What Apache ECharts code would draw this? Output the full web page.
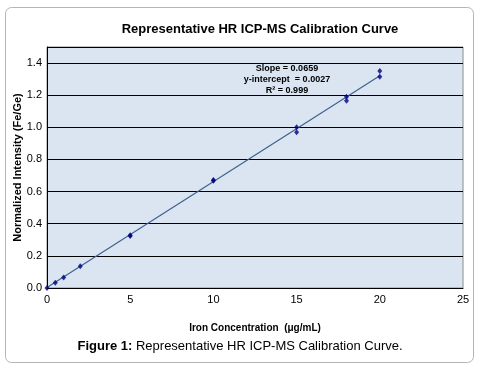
<!DOCTYPE html>
<html>
<head>
<meta charset="utf-8">
<script src="https://cdn.jsdelivr.net/npm/echarts@6/dist/echarts.min.js"></script>
<style>
  html, body { margin: 0; padding: 0; background: #fff; }
  #chart { width: 480px; height: 369px; }
</style>
</head>
<body>
<div id="chart"></div>
<script>
// calibration standards (µg/mL) and normalized Fe/Ge intensity
const concentrations = [0, 0.5, 1, 2, 5, 5, 10, 10, 15, 15, 18, 18, 20, 20];
const intensities = [0.0, 0.033, 0.066, 0.135, 0.323, 0.328, 0.668, 0.672, 0.97, 1.0, 1.165, 1.19, 1.315, 1.35];

// fitted line end points
const fitX = [0, 20];
const fitY = [0.0027, 1.3207];

const xTicks = [0, 5, 10, 15, 20, 25];
const yTicks = [0, 0.2, 0.4, 0.6, 0.8, 1.0, 1.2, 1.4];

const fitNotes = ['Slope = 0.0659', 'y-intercept  = 0.0027', 'R\u00b2 = 0.999'];

const chart = echarts.init(document.getElementById('chart'));
const font = 'Liberation Sans, Arial, sans-serif';

chart.setOption({
  backgroundColor: '#fff',
  animation: false,
  title: {
    text: 'Representative HR ICP-MS Calibration Curve',
    left: 255,
    top: 18,
    textAlign: 'center',
    textStyle: { fontFamily: font, fontSize: 13, fontWeight: 'bold', color: '#000' }
  },
  grid: {
    left: 47, right: 17, top: 47, bottom: 81,
    outerBoundsMode: 'none',
    show: true,
    backgroundColor: '#dbe5f1',
    borderColor: '#8c8c8c',
    borderWidth: 1
  },
  xAxis: {
    type: 'value',
    min: xTicks[0],
    max: xTicks[xTicks.length - 1],
    interval: 5,
    name: 'Iron Concentration  (\u03bcg/mL)',
    nameLocation: 'middle',
    nameGap: 35,
    nameMoveOverlap: false,
    nameTextStyle: { fontFamily: font, fontSize: 10, fontWeight: 'bold', color: '#000' },
    axisLine: { show: true, onZero: false, lineStyle: { color: '#000', width: 1 } },
    axisTick: { show: false },
    splitLine: { show: false },
    axisLabel: { fontFamily: font, fontSize: 11, color: '#000', margin: 6 }
  },
  yAxis: {
    type: 'value',
    min: 0,
    max: 1.5,
    interval: 0.2,
    name: 'Normalized Intensity (Fe/Ge)',
    nameLocation: 'middle',
    nameGap: 24,
    nameMoveOverlap: false,
    nameTextStyle: { fontFamily: font, fontSize: 11, fontWeight: 'bold', color: '#000' },
    axisLine: { show: true, onZero: false, lineStyle: { color: '#000', width: 1 } },
    axisTick: { show: false },
    splitLine: { show: true, lineStyle: { color: '#000', width: 1 } },
    axisLabel: {
      fontFamily: font, fontSize: 11, color: '#000', margin: 5,
      showMaxLabel: false,
      formatter: v => yTicks.some(t => Math.abs(t - v) < 1e-6) ? v.toFixed(1) : ''
    }
  },
  series: [
    {
      type: 'line',
      data: fitX.map((x, i) => [x, fitY[i]]),
      symbol: 'none',
      lineStyle: { color: '#3f6190', width: 1.2 },
      z: 2
    },
    {
      type: 'scatter',
      data: concentrations.map((x, i) => [x, intensities[i]]),
      symbol: 'diamond',
      symbolSize: [5, 6],
      itemStyle: { color: '#000080' },
      z: 3
    }
  ],
  graphic: [
    {
      type: 'rect',
      shape: { x: 5.5, y: 7.5, width: 468, height: 355, r: 6 },
      style: { fill: 'none', stroke: '#b5b5b5', lineWidth: 1 },
      silent: true,
      z: -10
    },
    {
      type: 'text',
      x: 287,
      y: 63,
      style: {
        text: fitNotes.join('\n'),
        align: 'center',
        verticalAlign: 'top',
        font: 'bold 9px ' + font,
        lineHeight: 11,
        fill: '#000'
      },
      z: 10
    },
    {
      type: 'text',
      left: 'center',
      top: 340,
      style: {
        text: '{b|Figure 1:} Representative HR ICP-MS Calibration Curve.',
        font: '13px ' + font,
        fill: '#000',
        rich: {
          b: { fontFamily: font, fontSize: 13, fontWeight: 'bold', fill: '#000' }
        }
      }
    }
  ]
});
</script>
</body>
</html>
